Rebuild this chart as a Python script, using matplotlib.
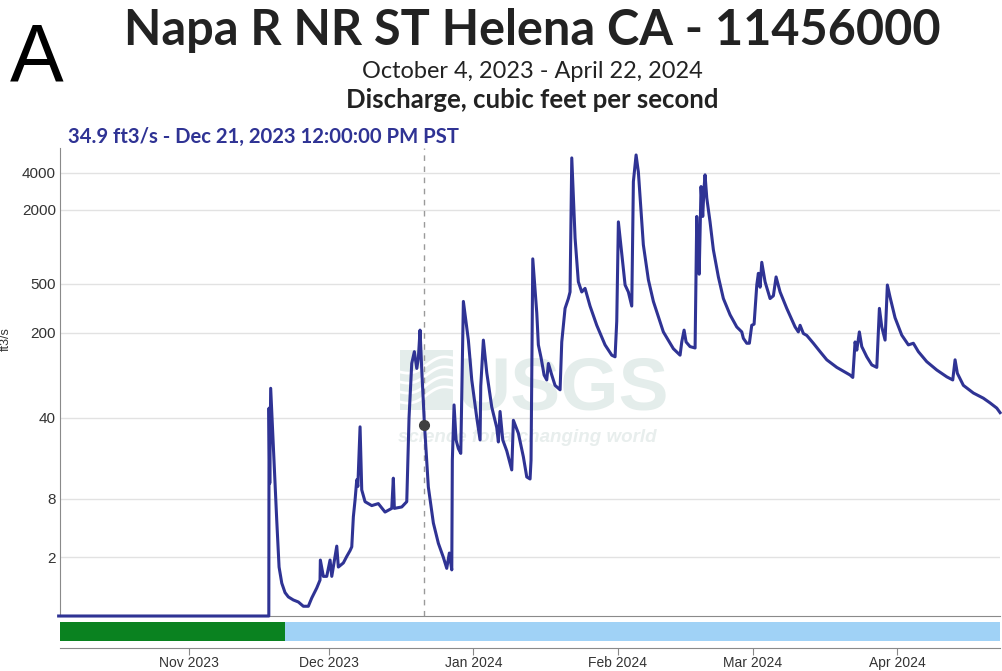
import numpy as np
import pandas as pd
import matplotlib
matplotlib.use("Agg")
import matplotlib.pyplot as plt
from matplotlib.patches import Rectangle

# discharge readings, days since 2023-10-04 00:00 and ft3/s
days = [0.0, 45.1, 45.15, 45.3, 45.5, 46.07, 46.8, 47.3, 47.88, 48.58, 49.29, 50.36,
        51.44, 52.51, 53.58, 54.31, 55.39, 56.09, 56.16, 56.8, 57.53, 58.24, 58.61,
        59.68, 60.02, 61.09, 61.82, 62.53, 62.9, 63.24, 63.61, 63.97, 64.2, 64.68,
        65.04, 65.75, 67.19, 68.6, 70.04, 71.48, 71.82, 72.04, 73.63, 74.7, 75.19,
        75.77, 76.33, 76.85, 77.19, 77.55, 77.92, 78.48, 79.33, 80.41, 81.48, 82.55,
        83.28, 83.84, 84.36, 84.48, 84.85, 85.28, 85.77, 86.29, 86.85, 87.92, 88.65,
        89.72, 90.43, 90.58, 91.14, 91.87, 92.94, 94.01, 94.36, 94.72, 95.3, 96.16,
        97.23, 97.58, 98.65, 99.72, 100.45, 101.16, 101.37, 101.74, 102.6, 102.94,
        103.52, 104.17, 104.74, 105.09, 105.82, 106.52, 107.6, 107.96, 108.67, 109.38,
        109.74, 110.11, 110.82, 111.52, 112.25, 112.96, 114.03, 115.47, 117.25, 118.69,
        119.4, 119.76, 120.11, 120.84, 121.55, 122.25, 122.98, 123.33, 123.91, 124.4,
        125.47, 126.55, 127.62, 129.76, 131.91, 133.35, 133.71, 134.21, 134.64, 135.49,
        136.57, 136.93, 137.1, 137.45, 137.85, 138.21, 138.49, 138.71, 139.08, 139.78,
        140.49, 141.57, 142.64, 144.08, 145.51, 146.59, 146.93, 147.66, 148.22, 148.73,
        149.23, 149.81, 150.15, 150.52, 150.88, 151.59, 152.66, 153.37, 153.95, 154.81,
        156.24, 158.03, 158.73, 159.1, 159.81, 160.54, 161.95, 163.39, 164.83, 166.98,
        169.83, 170.41, 170.9, 171.27, 171.82, 172.34, 173.41, 174.49, 175.56, 176.12,
        176.63, 177.34, 177.83, 178.41, 179.48, 180.92, 182.34, 183.41, 184.48, 186.27,
        188.43, 190.58, 191.86, 192.36, 192.85, 194.14, 196.29, 198.43, 199.87, 201.31,
        202.02]
flow = [0, 0, 48, 11, 70, 23, 5, 1.5, 0.85, 0.55, 0.43, 0.35,
        0.3, 0.2, 0.2, 0.4, 0.69, 0.96, 1.85, 1.1, 1.1, 1.85, 1.1,
        2.7, 1.5, 1.7, 2.05, 2.4, 2.65, 5.4, 7.8, 11.8, 10.3, 33.5,
        9.6, 7.5, 6.9, 7.2, 6.0, 6.5, 12.2, 6.5, 6.7, 7.5, 40,
        112, 140, 102, 124, 210, 99, 36, 10.2, 4.7, 2.9, 2.0,
        1.44, 2.25, 1.37, 17.5, 51, 26, 22, 20, 360, 174, 82,
        40, 26, 73, 174, 94, 49, 33, 25, 45, 26, 21,
        14.4, 38, 29.6, 18.7, 12.5, 12.0, 17.5, 800, 290, 159,
        125, 90, 82, 112, 90, 74, 68, 168, 316, 380,
        430, 5300, 1180, 520, 430, 460, 330, 230, 159, 131,
        127, 248, 1600, 880, 490, 430, 330, 3400, 5600, 4070,
        1040, 540, 360, 203, 148, 131, 168, 210, 168, 154,
        150, 1770, 1040, 600, 3100, 1770, 3000, 3860, 2500, 1600,
        950, 570, 380, 280, 223, 203, 180, 164, 164, 230,
        235, 490, 610, 470, 750, 520, 380, 400, 570, 430,
        316, 223, 203, 230, 197, 190, 164, 140, 120, 104,
        90, 86, 168, 144, 203, 154, 127, 109, 104, 316,
        223, 174, 490, 390, 265, 191, 159, 164, 140, 116,
        99, 87, 82, 120, 93, 74, 64, 58, 53, 48,
        44]

yticks = [2, 8, 40, 200, 500, 2000, 4000]
month_ticks = ["2023-11-01", "2023-12-01", "2024-01-01", "2024-02-01", "2024-03-01", "2024-04-01"]
month_labels = ["Nov 2023", "Dec 2023", "Jan 2024", "Feb 2024", "Mar 2024", "Apr 2024"]

start = pd.Timestamp("2023-10-04")
approved_until = pd.Timestamp("2023-11-21 14:00")
cursor_time = pd.Timestamp("2023-12-21 12:00")
cursor_value = 34.9

x = start + pd.to_timedelta(days, unit="D")
x0 = start + pd.Timedelta(hours=7)
x1 = start + pd.Timedelta(days=202.0)

line_color = "#2f3394"
wm_color = "#e4edeb"

fig = plt.figure(figsize=(10.02, 6.71), dpi=100)
ax = fig.add_axes([60 / 1002, 55 / 671, 940 / 1002, 468 / 671])

ax.set_yscale("function", functions=(lambda v: np.log10(np.clip(v, 0, None) + 1),
                                     lambda u: 10 ** u - 1))
ax.set_ylim(0, 6380)
ax.set_xlim(x0, x1)
ax.set_yticks(yticks)
ax.set_yticklabels([str(t) for t in yticks], fontsize=11, family="Liberation Sans", color="#333333")
ax.yaxis.set_minor_locator(matplotlib.ticker.NullLocator())
ax.tick_params(axis="y", length=0, pad=3)
ax.set_xticks([])
ax.grid(axis="y", color="#e2e2e2", lw=1)
ax.set_axisbelow(True)
for s in ["top", "right"]:
    ax.spines[s].set_visible(False)
ax.spines["left"].set_color("#8a8a8a")
ax.spines["bottom"].set_color("#8a8a8a")

# USGS watermark behind the data
tf = fig.transFigure
ax.text(0.456, 0.389, "USGS", fontsize=54, fontweight="bold", color=wm_color,
        family="Liberation Sans", transform=tf, zorder=1)
ax.text(0.397, 0.341, "science for a changing world", fontsize=13.5, style="italic",
        fontweight="bold", color="#e8eeed", family="Liberation Sans", transform=tf, zorder=1)
ax.add_patch(Rectangle((400 / 1002, 261 / 671), 53 / 1002, 60 / 671, color=wm_color,
                       lw=0, transform=tf, zorder=1))
wx = np.linspace(400, 453, 40)
for k in range(4):
    wy = 372 + k * 10 - 14 * (wx - 400) / 53 + 4 * np.sin((wx - 400) / 53 * 2 * np.pi)
    ax.plot(wx / 1002, (671 - wy) / 671, color="white", lw=2, transform=tf, zorder=1.1)

ax.plot(x, flow, color=line_color, lw=2.2, zorder=3, clip_on=False)
ax.axvline(cursor_time, color="#9a9a9a", lw=1, ls=(0, (4, 4)), zorder=2)
ax.plot([cursor_time], [cursor_value], "o", color="#404040", ms=7, zorder=4)

# approval status bar
bar = fig.add_axes([60 / 1002, 30 / 671, 940 / 1002, 19 / 671])
bar.axvspan(x0, approved_until, color="#0a8220", lw=0)
bar.axvspan(approved_until, x1, color="#a0d2f6", lw=0)
bar.set_xlim(x0, x1)
bar.set_yticks([])
for s in ["top", "right", "left"]:
    bar.spines[s].set_visible(False)
bar.spines["bottom"].set_position(("outward", 5))
bar.spines["bottom"].set_color("#8a8a8a")
bar.set_xticks(pd.to_datetime(month_ticks))
bar.set_xticklabels(month_labels, fontsize=10, family="Liberation Sans", color="#333333")
bar.tick_params(axis="x", length=5, color="#8a8a8a", pad=1)

# titles
fig.text(0.531, 0.955, "Napa R NR ST Helena CA - 11456000", ha="center", va="center",
         fontsize=35, fontweight="bold", family="Lato", color="#222222")
fig.text(0.531, 0.893, "October 4, 2023 - April 22, 2024", ha="center", va="center",
         fontsize=16.9, family="Lato", color="#222222")
fig.text(0.531, 0.851, "Discharge, cubic feet per second", ha="center", va="center",
         fontsize=18.5, fontweight="bold", family="Lato", color="#222222")
fig.text(0.068, 0.796, "34.9 ft3/s - Dec 21, 2023 12:00:00 PM PST", ha="left", va="center",
         fontsize=14.6, fontweight="bold", family="Lato", color=line_color)
fig.text(0.01, 0.912, "A", ha="left", va="center", fontsize=58, family="Liberation Sans",
         color="black")
fig.text(0.0, 0.495, "ft3/s", ha="left", va="center", rotation=90, fontsize=9,
         family="Liberation Sans", color="#333333")

fig.savefig("out.png", dpi=100)
